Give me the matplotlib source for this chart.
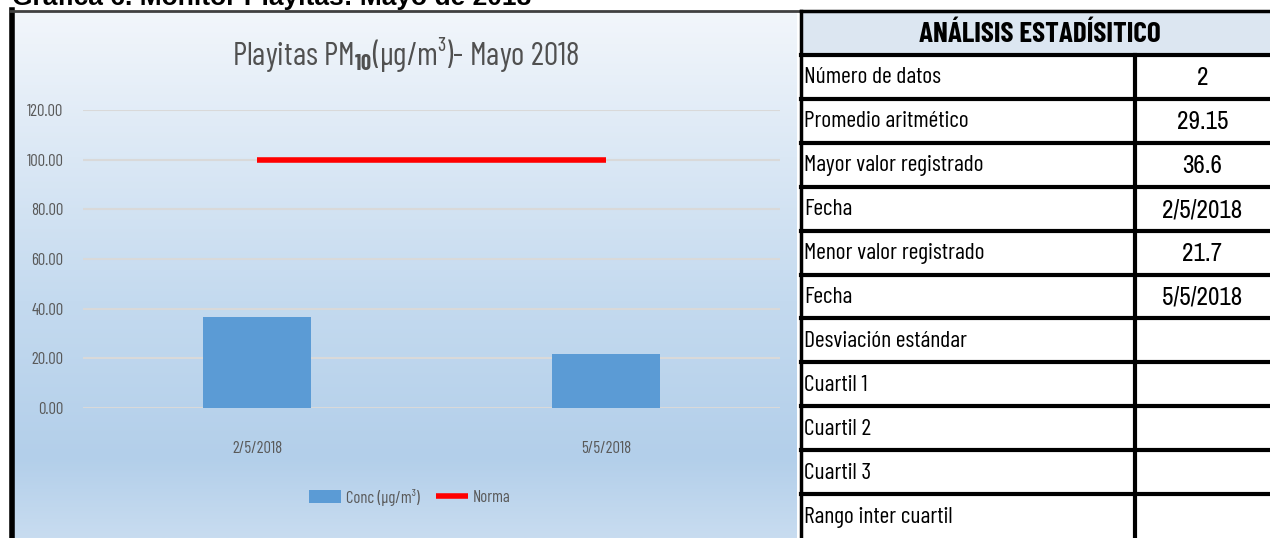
import numpy as np
import matplotlib
matplotlib.use("Agg")
import matplotlib.pyplot as plt
from matplotlib.patches import Rectangle
from matplotlib.lines import Line2D

# data
fechas = ["2/5/2018", "5/5/2018"]
conc = [36.6, 21.7]
norma = [100, 100]
y_ticks = [0, 20, 40, 60, 80, 100, 120]

etiquetas = ["Número de datos", "Promedio aritmético", "Mayor valor registrado", "Fecha",
             "Menor valor registrado", "Fecha", "Desviación estándar", "Cuartil 1",
             "Cuartil 2", "Cuartil 3", "Rango inter cuartil"]
valores = ["2", "29.15", "36.6", "2/5/2018", "21.7", "5/5/2018", "", "", "", "", ""]

NARROW = ["Barlow Condensed", "DejaVu Sans"]
plt.rcParams["mathtext.fontset"] = "custom"
plt.rcParams["mathtext.rm"] = "Barlow Condensed"
plt.rcParams["mathtext.bf"] = "Barlow Condensed:bold"

W, H = 1270, 538
fig = plt.figure(figsize=(12.7, 5.38), dpi=100)
fig.patch.set_facecolor("white")

# background gradient of the chart
bg = fig.add_axes([12 / W, 0, (797 - 12) / W, (538 - 12) / H])
bg.set_axis_off()
stops_y = [0.0, 0.55, 0.85, 1.0]
stops_c = np.array([[0xf2, 0xf6, 0xfb], [0xc4, 0xda, 0xef], [0xb3, 0xcf, 0xea], [0xc8, 0xdc, 0xf0]]) / 255
t = np.linspace(0, 1, 300)
grad = np.stack([np.interp(t, stops_y, stops_c[:, k]) for k in range(3)], axis=1)
bg.imshow(grad[:, None, :], aspect="auto", extent=[0, 1, 1, 0])
bg.set_xlim(0, 1)
bg.set_ylim(1, 0)

# main plot
ax = fig.add_axes([83 / W, 1 - 408 / H, 697 / W, 298 / H])
ax.patch.set_alpha(0)
x = np.arange(len(fechas))
barras = ax.bar(x, conc, width=0.31, color="#5b9bd5", zorder=3)
linea, = ax.plot(x, norma, color="#ff0000", lw=4, solid_capstyle="butt", zorder=4)
ax.set_xlim(-0.5, len(fechas) - 0.5)
ax.set_ylim(0, 120)
ax.set_yticks(y_ticks)
ax.set_yticklabels(["%.2f" % v for v in y_ticks])
ax.set_xticks(x)
ax.set_xticklabels(fechas)
ax.yaxis.grid(True, color="#d9d9d9", lw=1.5, zorder=0)
for s in ax.spines.values():
    s.set_visible(False)
ax.tick_params(axis="both", length=0, colors="#595959", labelsize=12)
ax.tick_params(axis="y", pad=14)
ax.tick_params(axis="x", pad=24)
for lab in ax.get_xticklabels() + ax.get_yticklabels():
    lab.set_family(NARROW)

leg = fig.legend([barras, linea], ["Conc (µg/m³)", "Norma"], loc="center",
                 bbox_to_anchor=(410 / W, 1 - 497 / H), ncol=2, frameon=False,
                 prop={"family": NARROW, "size": 12}, handlelength=1.9, handleheight=0.8,
                 columnspacing=1.0, handletextpad=0.3)
for tx in leg.get_texts():
    tx.set_color("#595959")

fig.text(406 / W, 1 - 55 / H, r"Playitas PM$_{\mathbf{10}}$(µg/m³)- Mayo 2018", ha="center", va="center",
         fontsize=23, color="#505050", family=NARROW)

fig.text(12 / W, 1 - 5 / H, "Grafica 6. Monitor Playitas: Mayo de 2018", ha="left", va="baseline",
         fontsize=19, fontweight="bold", family=["Liberation Sans", "DejaVu Sans"], color="black")

# overlay in pixel coordinates for frame and table
ov = fig.add_axes([0, 0, 1, 1])
ov.set_xlim(0, W)
ov.set_ylim(H, 0)
ov.set_axis_off()
ov.patch.set_alpha(0)
ov.add_line(Line2D([12, 12], [10, H], color="black", lw=4))
ov.add_line(Line2D([10, 800], [11, 11], color="#404040", lw=2))

# table
tx0, tx1, tdiv = 801, 1272, 1135
ov.add_patch(Rectangle((tx0, 12), tx1 - tx0, 43, facecolor="#dce6f1", edgecolor="none"))
ov.add_patch(Rectangle((tx0, 55), tx1 - tx0, H - 55, facecolor="white", edgecolor="none"))
ov.text((tx0 + 1270) / 2 + 4, 34, "ANÁLISIS ESTADÍSITICO", ha="center", va="center", fontsize=21,
        fontweight="bold", family=NARROW)
ov.add_line(Line2D([tx0, tx1], [11, 11], color="black", lw=2.5))
row_h = (H - 55) / len(etiquetas)
for i, (lab, val) in enumerate(zip(etiquetas, valores)):
    y0 = 55 + i * row_h
    ov.add_line(Line2D([tx0, tx1], [y0, y0], color="black", lw=3))
    ov.text(tx0 + 3, y0 + row_h / 2 + 1, lab, ha="left", va="center", fontsize=17, family=NARROW)
    ov.text((tdiv + 1270) / 2, y0 + row_h / 2 + 1, val, ha="center", va="center", fontsize=18,
            family=["Archivo Narrow", "DejaVu Sans"])
ov.add_line(Line2D([tx0, tx0], [11, H], color="black", lw=2.5))
ov.add_line(Line2D([tdiv, tdiv], [55, H], color="black", lw=3))

fig.savefig("out.png", dpi=100)
